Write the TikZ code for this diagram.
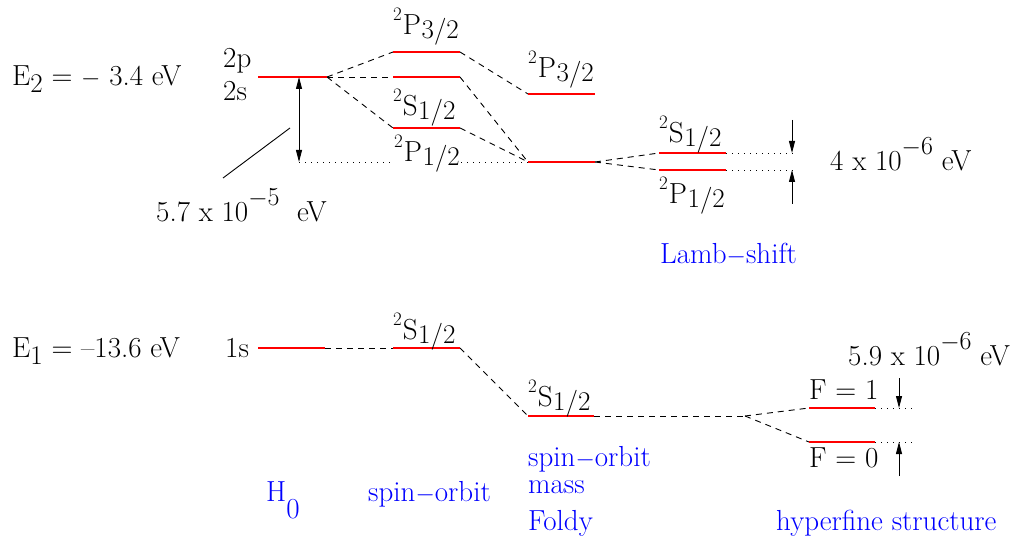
\documentclass[tikz,border=0pt]{standalone}
\usetikzlibrary{arrows.meta}
\newcommand\lvlab[3]{\raisebox{14pt}{\fontsize{19}{19}\selectfont #1}\kern1pt#2\kern0.5pt\raisebox{-4pt}{\fontsize{27}{27}\selectfont #3}}
\newcommand\expo[1]{\raisebox{16pt}{\fontsize{26}{26}\selectfont #1}}
\tikzset{
  lvl/.style={red, line width=2pt},
  dsh/.style={black, line width=0.9pt, dash pattern=on 6pt off 5pt},
  dtt/.style={black, line width=0.9pt, dash pattern=on 1pt off 5pt},
  arr/.style={black, line width=0.9pt, -{Triangle[length=12pt,width=6pt]}},
  darr/.style={black, line width=0.9pt, {Triangle[length=12pt,width=6pt]}-{Triangle[length=12pt,width=6pt]}},
  txt/.style={inner sep=0pt, anchor=base west, font=\fontsize{29}{34}\selectfont},
  lab/.style={txt, fill=white, inner sep=1pt},
  blu/.style={txt, text=blue},
}
\begin{document}
\begin{tikzpicture}[x=1pt,y=-1pt]
\useasboundingbox (0,0) rectangle (1035,545);
% ---------- top coordinates
\coordinate (a1) at (258,77);  \coordinate (a2) at (327,77);
\coordinate (b1l) at (393,52); \coordinate (b1r) at (460,52);
\coordinate (b2l) at (393,77); \coordinate (b2r) at (460,77);
\coordinate (b3l) at (393,128);\coordinate (b3r) at (460,128);
\coordinate (c1l) at (528,94); \coordinate (c1r) at (595,94);
\coordinate (c2l) at (528,162);\coordinate (c2r) at (595,162);
\coordinate (d1l) at (659,153);\coordinate (d1r) at (726,153);
\coordinate (d2l) at (659,170);\coordinate (d2r) at (726,170);
\coordinate (d1e) at (795,153);\coordinate (d2e) at (795,170);
\coordinate (la1) at (792,120);\coordinate (la1e) at (792,153);
\coordinate (la2) at (792,204);\coordinate (la2e) at (792,170);
\coordinate (fs1) at (299,77); \coordinate (fs2) at (299,162);
\coordinate (ld1) at (290,128);\coordinate (ld2) at (223,178);
% ---------- bottom coordinates
\coordinate (e1l) at (258,348);\coordinate (e1r) at (325,348);
\coordinate (f1l) at (393,348);\coordinate (f1r) at (460,348);
\coordinate (g1l) at (528,416);\coordinate (g1r) at (594,416);
\coordinate (hs) at (745,416);
\coordinate (i1l) at (809,408);\coordinate (i1r) at (875,408);
\coordinate (j1l) at (809,442);\coordinate (j1r) at (875,442);
\coordinate (i1e) at (912,408);\coordinate (j1e) at (912,442);
\coordinate (ha1) at (899,378);\coordinate (ha1e) at (899,408);
\coordinate (ha2) at (899,476);\coordinate (ha2e) at (899,442);
% ---------- dotted and dashed connectors
\draw[dtt] (fs2) -- (c2l);
\draw[dtt] (d1r) -- (d1e);
\draw[dtt] (d2r) -- (d2e);
\draw[dtt] (i1r) -- (i1e);
\draw[dtt] (j1r) -- (j1e);
\draw[dsh] (a2) -- (b1l);
\draw[dsh] (a2) -- (b2l);
\draw[dsh] (a2) -- (b3l);
\draw[dsh] (b1r) -- (c1l);
\draw[dsh] (b2r) -- (c2l);
\draw[dsh] (b3r) -- (c2l);
\draw[dsh] (c2r) -- (d1l);
\draw[dsh] (c2r) -- (d2l);
\draw[dsh] (e1r) -- (f1l);
\draw[dsh] (f1r) -- (g1l);
\draw[dsh] (g1r) -- (hs);
\draw[dsh] (hs) -- (i1l);
\draw[dsh] (hs) -- (j1l);
% ---------- levels
\draw[lvl] (a1) -- (a2);
\draw[lvl] (b1l) -- (b1r);
\draw[lvl] (b2l) -- (b2r);
\draw[lvl] (b3l) -- (b3r);
\draw[lvl] (c1l) -- (c1r);
\draw[lvl] (c2l) -- (c2r);
\draw[lvl] (d1l) -- (d1r);
\draw[lvl] (d2l) -- (d2r);
\draw[lvl] (e1l) -- (e1r);
\draw[lvl] (f1l) -- (f1r);
\draw[lvl] (g1l) -- (g1r);
\draw[lvl] (i1l) -- (i1r);
\draw[lvl] (j1l) -- (j1r);
% ---------- arrows
\draw[darr] (fs1) -- (fs2);
\draw[arr] (la1) -- (la1e);
\draw[arr] (la2) -- (la2e);
\draw[arr] (ha1) -- (ha1e);
\draw[arr] (ha2) -- (ha2e);
\draw[black, line width=0.9pt] (ld1) -- (ld2);
% ---------- texts
\node[txt] (e2) at (12,86) {E\raisebox{-7pt}{\fontsize{27}{27}\selectfont 2} = $-$ 3.4 eV};
\node[txt] (t2p) at (223,68) {2p};
\node[txt] (t2s) at (223,101) {2s};
\node[txt] (lb1) at (393,35) {\lvlab{2}{P}{3/2}};
\node[txt] (lb2) at (393,116) {\lvlab{2}{S}{1/2}};
\node[lab] (lb3) at (393,162) {\lvlab{2}{P}{1/2}};
\node[txt] (lc1) at (528,78) {\lvlab{2}{P}{3/2}};
\node[txt] (ld1t) at (659,143) {\lvlab{2}{S}{1/2}};
\node[txt] (ld2t) at (659,204) {\lvlab{2}{P}{1/2}};
\node[txt] (gap1) at (156,222) {5.7 x 10\expo{$-$5}\ \ eV};
\node[txt] (gap2) at (830,171) {4 x 10\expo{$-$6}\ eV};
\node[blu] (lamb) at (660,263) {Lamb$-$shift};
\node[txt] (e1) at (12,357) {E\raisebox{-7pt}{\fontsize{27}{27}\selectfont 1} = --13.6 eV};
\node[txt] (t1s) at (225,357) {1s};
\node[txt] (lf1) at (393,339) {\lvlab{2}{S}{1/2}};
\node[txt] (lg1) at (528,406) {\lvlab{2}{S}{1/2}};
\node[txt] (fone) at (809,399) {F = 1};
\node[txt] (fzero) at (809,467) {F = 0};
\node[txt] (gap3) at (848,365) {5.9 x 10\expo{$-$6}\ eV};
\node[blu] (h0) at (266,501) {H\raisebox{-17pt}{0}};
\node[blu] (so1) at (368,501) {spin$-$orbit};
\node[blu] (so2) at (528,466) {spin$-$orbit};
\node[blu] (mass) at (528,493) {mass};
\node[blu] (foldy) at (528,530) {Foldy};
\node[blu] (hfs) at (776,530) {hyperfine structure};
\end{tikzpicture}
\end{document}
